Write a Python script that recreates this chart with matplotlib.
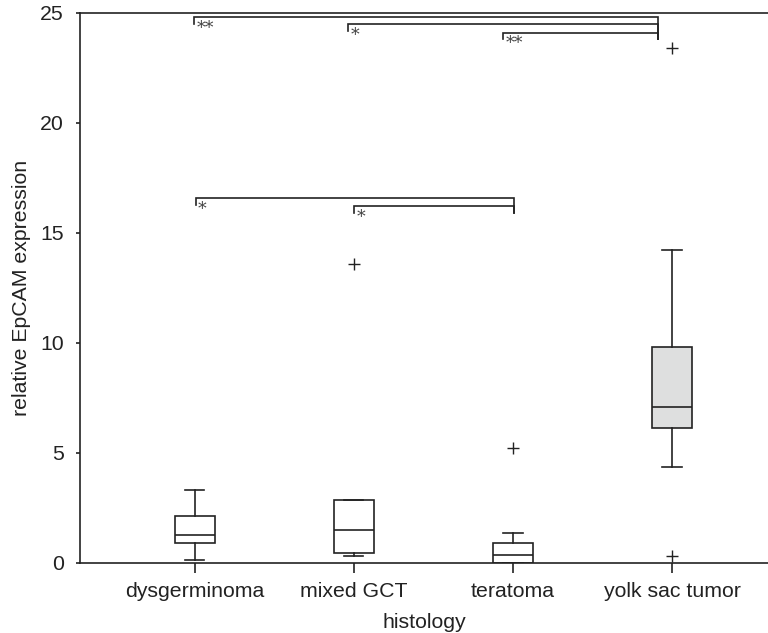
import matplotlib
matplotlib.use("Agg")
import matplotlib.pyplot as plt

plt.rcParams['font.family'] = ['Liberation Sans', 'DejaVu Sans']

groups = ["dysgerminoma", "mixed GCT", "teratoma", "yolk sac tumor"]
whis_low = [0.14, 0.30, 0.0, 4.38]
q1 = [0.91, 0.45, 0.01, 6.12]
medians = [1.27, 1.51, 0.35, 7.09]
q3 = [2.14, 2.86, 0.92, 9.83]
whis_high = [3.32, 2.86, 1.35, 14.21]
outliers = [[], [13.6], [5.21], [23.4, 0.32]]
box_fill = ["white", "white", "white", "#dedfdf"]

# significance brackets: (left x, right x, height, label)
brackets_top = [(0.994, 3.912, 24.80, "**"),
                (1.962, 3.912, 24.48, "*"),
                (2.937, 3.912, 24.10, "**")]
brackets_low = [(1.004, 3.006, 16.58, "*"),
                (2.0, 3.006, 16.22, "*")]

ink = "#222222"
fs = 15.3

fig = plt.figure(figsize=(7.68, 6.33), dpi=100)
ax = fig.add_axes([80 / 768, 70 / 633, 1 - 80 / 768, 550 / 633])

stats = []
for i in range(len(groups)):
    stats.append(dict(med=medians[i], q1=q1[i], q3=q3[i],
                      whislo=whis_low[i], whishi=whis_high[i],
                      fliers=outliers[i], label=groups[i]))

bp = ax.bxp(stats, positions=[1, 2, 3, 4], widths=0.25, patch_artist=True,
            boxprops=dict(edgecolor=ink, linewidth=1.2),
            medianprops=dict(color=ink, linewidth=1.2),
            whiskerprops=dict(color=ink, linewidth=1.2),
            capprops=dict(color=ink, linewidth=1.2),
            capwidths=0.12,
            flierprops=dict(marker="+", markersize=9, markeredgecolor=ink,
                            markeredgewidth=1.0, linestyle="none"))
for patch, c in zip(bp["boxes"], box_fill):
    patch.set_facecolor(c)

def bracket(x0, x1, y, label, drop=0.3, right_drop=None):
    rd = drop if right_drop is None else right_drop
    ax.plot([x0, x0, x1, x1], [y - drop, y, y, y - rd],
            color=ink, linewidth=1.2, solid_joinstyle="miter")
    ax.text(x0 + 0.015, y - 0.12, label, ha="left", va="top",
            fontsize=12.5, color="#444444", family="DejaVu Serif")

for x0, x1, y, lab in brackets_top:
    bracket(x0, x1, y, lab, right_drop=y - 23.82)
for x0, x1, y, lab in brackets_low:
    bracket(x0, x1, y, lab, right_drop=y - 15.9)

ax.set_xlim(0.277, 4.604)
ax.set_ylim(0, 25)
ax.set_yticks([0, 5, 10, 15, 20, 25])
ax.spines["right"].set_visible(False)
for s in ["left", "bottom", "top"]:
    ax.spines[s].set_color(ink)
    ax.spines[s].set_linewidth(1.2)
ax.tick_params(axis="y", direction="out", length=3, width=1.2, pad=8.5,
               labelsize=fs, colors=ink)
ax.tick_params(axis="x", direction="out", length=7, width=1.2, pad=7,
               labelsize=fs, colors=ink)

ax.set_xlabel("histology", fontsize=fs, color=ink, labelpad=8)
ax.set_ylabel("relative EpCAM expression", fontsize=fs, color=ink, labelpad=7)

fig.savefig("out.png", dpi=100)
